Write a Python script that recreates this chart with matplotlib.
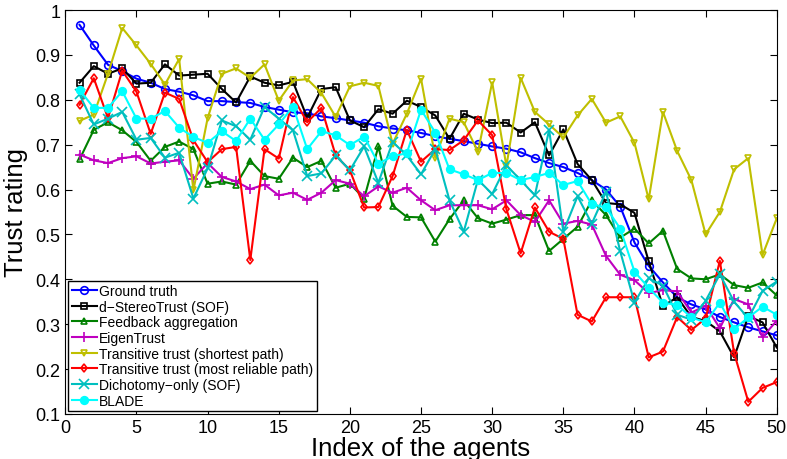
import matplotlib
matplotlib.use("Agg")
import matplotlib.pyplot as plt
import numpy as np

plt.rcParams['font.family'] = ['Liberation Sans', 'DejaVu Sans']

agents = np.arange(1, 51)

ground_truth = [0.967, 0.921, 0.878, 0.864, 0.847, 0.838, 0.824, 0.818, 0.810, 0.797,
                0.797, 0.795, 0.793, 0.784, 0.778, 0.772, 0.770, 0.763, 0.759, 0.754,
                0.749, 0.741, 0.736, 0.732, 0.726, 0.719, 0.713, 0.708, 0.702, 0.696,
                0.691, 0.683, 0.670, 0.659, 0.650, 0.637, 0.621, 0.600, 0.562, 0.482,
                0.430, 0.393, 0.360, 0.344, 0.333, 0.316, 0.304, 0.293, 0.284, 0.275]
stereo_trust = [0.838, 0.875, 0.858, 0.870, 0.836, 0.838, 0.879, 0.854, 0.856, 0.858,
                0.824, 0.794, 0.852, 0.838, 0.832, 0.840, 0.760, 0.824, 0.828, 0.754,
                0.739, 0.779, 0.769, 0.798, 0.784, 0.765, 0.713, 0.769, 0.756, 0.748,
                0.749, 0.727, 0.750, 0.676, 0.734, 0.657, 0.621, 0.570, 0.567, 0.548,
                0.440, 0.340, 0.360, 0.316, 0.307, 0.284, 0.226, 0.318, 0.304, 0.248]
feedback = [0.667, 0.733, 0.750, 0.732, 0.706, 0.664, 0.695, 0.707, 0.690, 0.613,
            0.618, 0.611, 0.664, 0.630, 0.624, 0.671, 0.650, 0.664, 0.604, 0.613,
            0.580, 0.696, 0.564, 0.539, 0.538, 0.484, 0.534, 0.576, 0.536, 0.524,
            0.533, 0.543, 0.543, 0.463, 0.490, 0.517, 0.576, 0.543, 0.493, 0.513,
            0.480, 0.508, 0.423, 0.402, 0.400, 0.411, 0.387, 0.381, 0.393, 0.364]
eigen_trust = [0.678, 0.665, 0.659, 0.670, 0.674, 0.658, 0.662, 0.665, 0.624, 0.659,
               0.628, 0.618, 0.601, 0.611, 0.587, 0.593, 0.577, 0.593, 0.621, 0.613,
               0.585, 0.607, 0.593, 0.604, 0.576, 0.554, 0.565, 0.565, 0.565, 0.556,
               0.576, 0.543, 0.528, 0.576, 0.524, 0.530, 0.522, 0.452, 0.410, 0.398,
               0.369, 0.376, 0.373, 0.326, 0.341, 0.291, 0.356, 0.344, 0.271, 0.308]
shortest_path = [0.753, 0.767, 0.858, 0.960, 0.921, 0.880, 0.834, 0.891, 0.598, 0.759,
                 0.858, 0.870, 0.849, 0.879, 0.798, 0.843, 0.846, 0.815, 0.762, 0.830,
                 0.838, 0.831, 0.702, 0.769, 0.847, 0.671, 0.758, 0.750, 0.684, 0.839,
                 0.652, 0.849, 0.773, 0.745, 0.716, 0.765, 0.802, 0.749, 0.763, 0.704,
                 0.578, 0.773, 0.686, 0.621, 0.500, 0.550, 0.645, 0.670, 0.454, 0.536]
reliable_path = [0.789, 0.848, 0.759, 0.865, 0.818, 0.724, 0.816, 0.802, 0.710, 0.661,
                 0.690, 0.695, 0.443, 0.690, 0.669, 0.806, 0.750, 0.782, 0.676, 0.643,
                 0.560, 0.561, 0.630, 0.733, 0.662, 0.690, 0.688, 0.710, 0.754, 0.721,
                 0.556, 0.458, 0.560, 0.506, 0.490, 0.321, 0.306, 0.360, 0.360, 0.360,
                 0.226, 0.239, 0.316, 0.287, 0.313, 0.441, 0.236, 0.127, 0.158, 0.171]
dichotomy = [0.812, 0.745, 0.758, 0.773, 0.711, 0.715, 0.671, 0.682, 0.580, 0.647,
             0.754, 0.741, 0.711, 0.784, 0.758, 0.732, 0.630, 0.636, 0.676, 0.643,
             0.696, 0.615, 0.706, 0.676, 0.634, 0.690, 0.576, 0.506, 0.622, 0.590,
             0.654, 0.621, 0.587, 0.733, 0.506, 0.585, 0.524, 0.595, 0.462, 0.348,
             0.402, 0.386, 0.321, 0.310, 0.352, 0.411, 0.350, 0.313, 0.374, 0.395]
blade = [0.822, 0.782, 0.782, 0.819, 0.758, 0.758, 0.775, 0.738, 0.717, 0.704,
         0.730, 0.708, 0.758, 0.711, 0.745, 0.785, 0.690, 0.730, 0.721, 0.699,
         0.718, 0.658, 0.674, 0.681, 0.778, 0.727, 0.645, 0.634, 0.621, 0.637,
         0.637, 0.621, 0.628, 0.637, 0.610, 0.619, 0.567, 0.560, 0.513, 0.417,
         0.381, 0.348, 0.343, 0.315, 0.304, 0.348, 0.289, 0.315, 0.339, 0.321]

series = [
    ('Ground truth', ground_truth, (0, 0, 1), 'o', 'none'),
    ('d\u2212StereoTrust (SOF)', stereo_trust, (0, 0, 0), 's', 'none'),
    ('Feedback aggregation', feedback, (0, 0.5, 0), '^', 'none'),
    ('EigenTrust', eigen_trust, (0.75, 0, 0.75), '+', 'none'),
    ('Transitive trust (shortest path)', shortest_path, (0.75, 0.75, 0), 'v', 'none'),
    ('Transitive trust (most reliable path)', reliable_path, (1, 0, 0), 'd', 'none'),
    ('Dichotomy\u2212only (SOF)', dichotomy, (0, 0.75, 0.75), 'x', 'none'),
    ('BLADE', blade, (0, 1, 1), 'o', 'fill'),
]

fig = plt.figure(figsize=(7.87, 4.6), dpi=100)
ax = fig.add_axes([0.083, 0.098, 0.904, 0.878])

for label, vals, col, mk, fill in series:
    ms = 5 if mk != 'o' else 5.5
    if mk in ('+', 'x'):
        ms = 7
    if mk in ('s', 'd'):
        ms = 4.5
    ax.plot(agents, vals, color=col, marker=mk, markersize=ms, linewidth=1.5,
            markeredgewidth=1.2,
            markerfacecolor=col if fill == 'fill' else 'none', label=label)

ax.set_xlim(0, 50)
ax.set_ylim(0.1, 1)
ax.set_xticks(np.arange(0, 51, 5))
ax.set_yticks(np.arange(0.1, 1.01, 0.1))
ax.set_yticklabels(['0.1', '0.2', '0.3', '0.4', '0.5', '0.6', '0.7', '0.8', '0.9', '1'])
ax.tick_params(direction='in', top=True, right=True, labelsize=13, length=5)
ax.set_xlabel('Index of the agents', fontsize=18.5, labelpad=0)
ax.set_ylabel('Trust rating', fontsize=18.5, labelpad=5)

leg = ax.legend(loc='lower left', fontsize=10, fancybox=False, edgecolor='black',
                framealpha=1, labelspacing=0.12, handlelength=1.8, handletextpad=0.2,
                borderpad=0.25, borderaxespad=0.2)
leg.get_frame().set_linewidth(1.0)

fig.savefig('out.png', dpi=100)
